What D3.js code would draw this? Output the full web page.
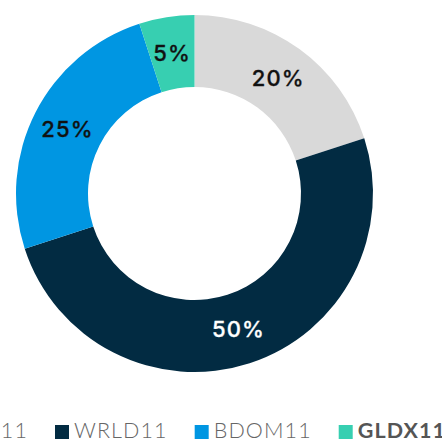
<!DOCTYPE html>
<html>
<head>
<meta charset="utf-8">
<script src="https://cdn.jsdelivr.net/npm/d3@7"></script>
<style>
  html, body { margin: 0; padding: 0; background: #fff; overflow: hidden; }
  svg { display: block; }
</style>
</head>
<body>
<svg id="chart" width="442" height="442"></svg>
<script>
// Portfolio allocation, clockwise from 12 o'clock
const tickers = ["LFTS11", "WRLD11", "BDOM11", "GLDX11"];
const weights = [20, 50, 25, 5];
const colors = ["#d9d9d9", "#022b42", "#0096e2", "#37cfb1"];
const labelColors = ["#111111", "#ffffff", "#111111", "#111111"];
const highlighted = ["GLDX11"];

const svg = d3.select("#chart");
const cx = 194.5, cy = 193.5;
const outerR = 178.5, innerR = 106.5;

const data = tickers.map((t, i) => ({ ticker: t, value: weights[i], color: colors[i], labelColor: labelColors[i] }));

const pie = d3.pie().value(d => d.value).sort(null);
const arc = d3.arc().innerRadius(innerR).outerRadius(outerR);
const labelArc = d3.arc().innerRadius((innerR + outerR) / 2).outerRadius((innerR + outerR) / 2);

const g = svg.append("g").attr("transform", `translate(${cx},${cy})`);
const arcs = pie(data);

g.selectAll("path.slice")
  .data(arcs)
  .join("path")
  .attr("class", "slice")
  .attr("d", arc)
  .attr("fill", d => d.data.color);

g.selectAll("text.pct")
  .data(arcs)
  .join("text")
  .attr("class", "pct")
  .attr("transform", d => `translate(${labelArc.centroid(d)})`)
  .attr("text-anchor", "middle")
  .attr("dy", "0.36em")
  .attr("font-family", "Inter, 'DejaVu Sans', sans-serif")
  .attr("font-size", 22)
  .attr("font-weight", 500)
  .attr("letter-spacing", 1.2)
  .attr("stroke", d => d.data.labelColor)
  .attr("stroke-width", 0.3)
  .attr("fill", d => d.data.labelColor)
  .text(d => d.data.value + "%");

// Legend row along the bottom
const legend = svg.append("g").attr("class", "legend");
const sw = 14, swGap = 5, itemGap = 27, baseline = 438;
const items = legend.selectAll("g.item")
  .data(data)
  .join("g")
  .attr("class", "item");

items.append("rect")
  .attr("width", sw).attr("height", sw)
  .attr("y", baseline - sw + 1)
  .attr("fill", d => d.color);

items.append("text")
  .attr("x", sw + swGap)
  .attr("y", baseline)
  .attr("font-family", "Lato, 'DejaVu Sans', sans-serif")
  .attr("font-size", 21.5)
  .attr("letter-spacing", 1.1)
  .attr("font-weight", d => highlighted.includes(d.ticker) ? 700 : 300)
  .attr("fill", d => highlighted.includes(d.ticker) ? "#555555" : "#666666")
  .text(d => d.ticker);

const widths = [];
items.select("text").each(function () { widths.push(this.getComputedTextLength()); });
const itemW = widths.map(w => sw + swGap + w + itemGap);
// second entry starts just left of the donut's left edge
let x = 55 - itemW[0];
items.attr("transform", (d, i) => {
  const t = `translate(${x},0)`;
  x += itemW[i];
  return t;
});
</script>
</body>
</html>
